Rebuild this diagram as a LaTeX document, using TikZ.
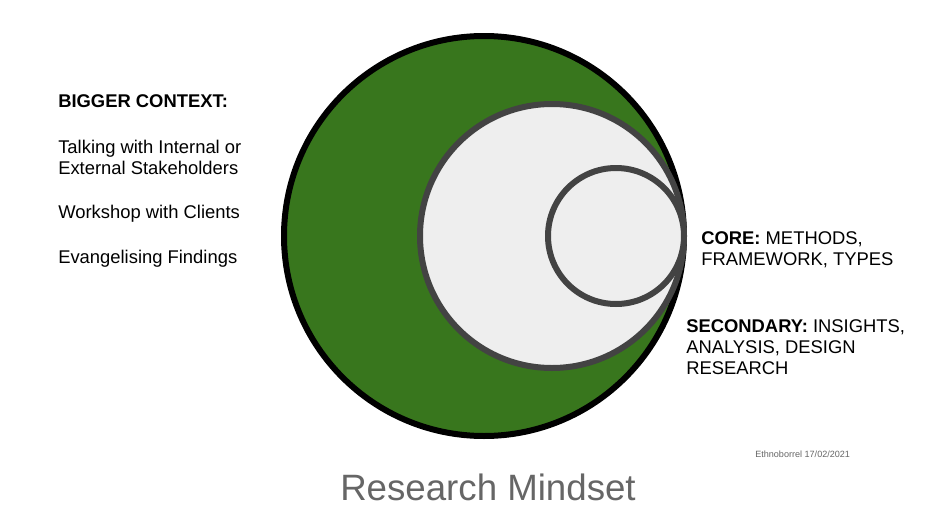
\documentclass[tikz,border=0pt]{standalone}
\usepackage{fontspec}
\setmainfont{Liberation Sans}
\definecolor{ringgreen}{HTML}{38761D}
\definecolor{ringfill}{HTML}{EEEEEE}
\definecolor{ringgray}{HTML}{434343}
\definecolor{titlegray}{HTML}{666666}
\begin{document}
\begin{tikzpicture}[x=0.75pt,y=-0.75pt,
  lbl/.style={anchor=base west,inner sep=0pt,font=\fontsize{13.8}{16}\selectfont,text=black},
  ring/.style={line width=4.5pt}]
\useasboundingbox (0,0) rectangle (940,525);
\fill[white] (0,0) rectangle (940,525);
% circles
\draw[ring,draw=black,fill=ringgreen] (484,236) circle[radius=200];
\draw[ring,draw=ringgray,fill=ringfill] (552,236) circle[radius=132];
\draw[ring,draw=ringgray,fill=ringfill] (616,236) circle[radius=68];
% left text
\node[lbl] (big) at (58,107) {\textbf{BIGGER CONTEXT:}};
\node[lbl] (t1) at (58,153) {Talking with Internal or};
\node[lbl] (t2) at (58,174) {External Stakeholders};
\node[lbl] (t3) at (58,218) {Workshop with Clients};
\node[lbl] (t4) at (58,263) {Evangelising Findings};
% right text
\node[lbl] (c1) at (701,244) {\textbf{CORE:} METHODS,};
\node[lbl] (c2) at (701,265) {FRAMEWORK, TYPES};
\node[lbl] (s1) at (686,332) {\textbf{SECONDARY:} INSIGHTS,};
\node[lbl] (s2) at (686,353) {ANALYSIS, DESIGN};
\node[lbl] (s3) at (686,374) {RESEARCH};
% credit and title
\node[anchor=base west,inner sep=0pt,font=\fontsize{6.8}{8}\selectfont,text=titlegray] (credit) at (755,457) {Ethnoborrel 17/02/2021};
\node[anchor=base,inner sep=0pt,font=\fontsize{27.5}{32}\selectfont,text=titlegray] (title) at (488,500) {Research Mindset};
\end{tikzpicture}
\end{document}
